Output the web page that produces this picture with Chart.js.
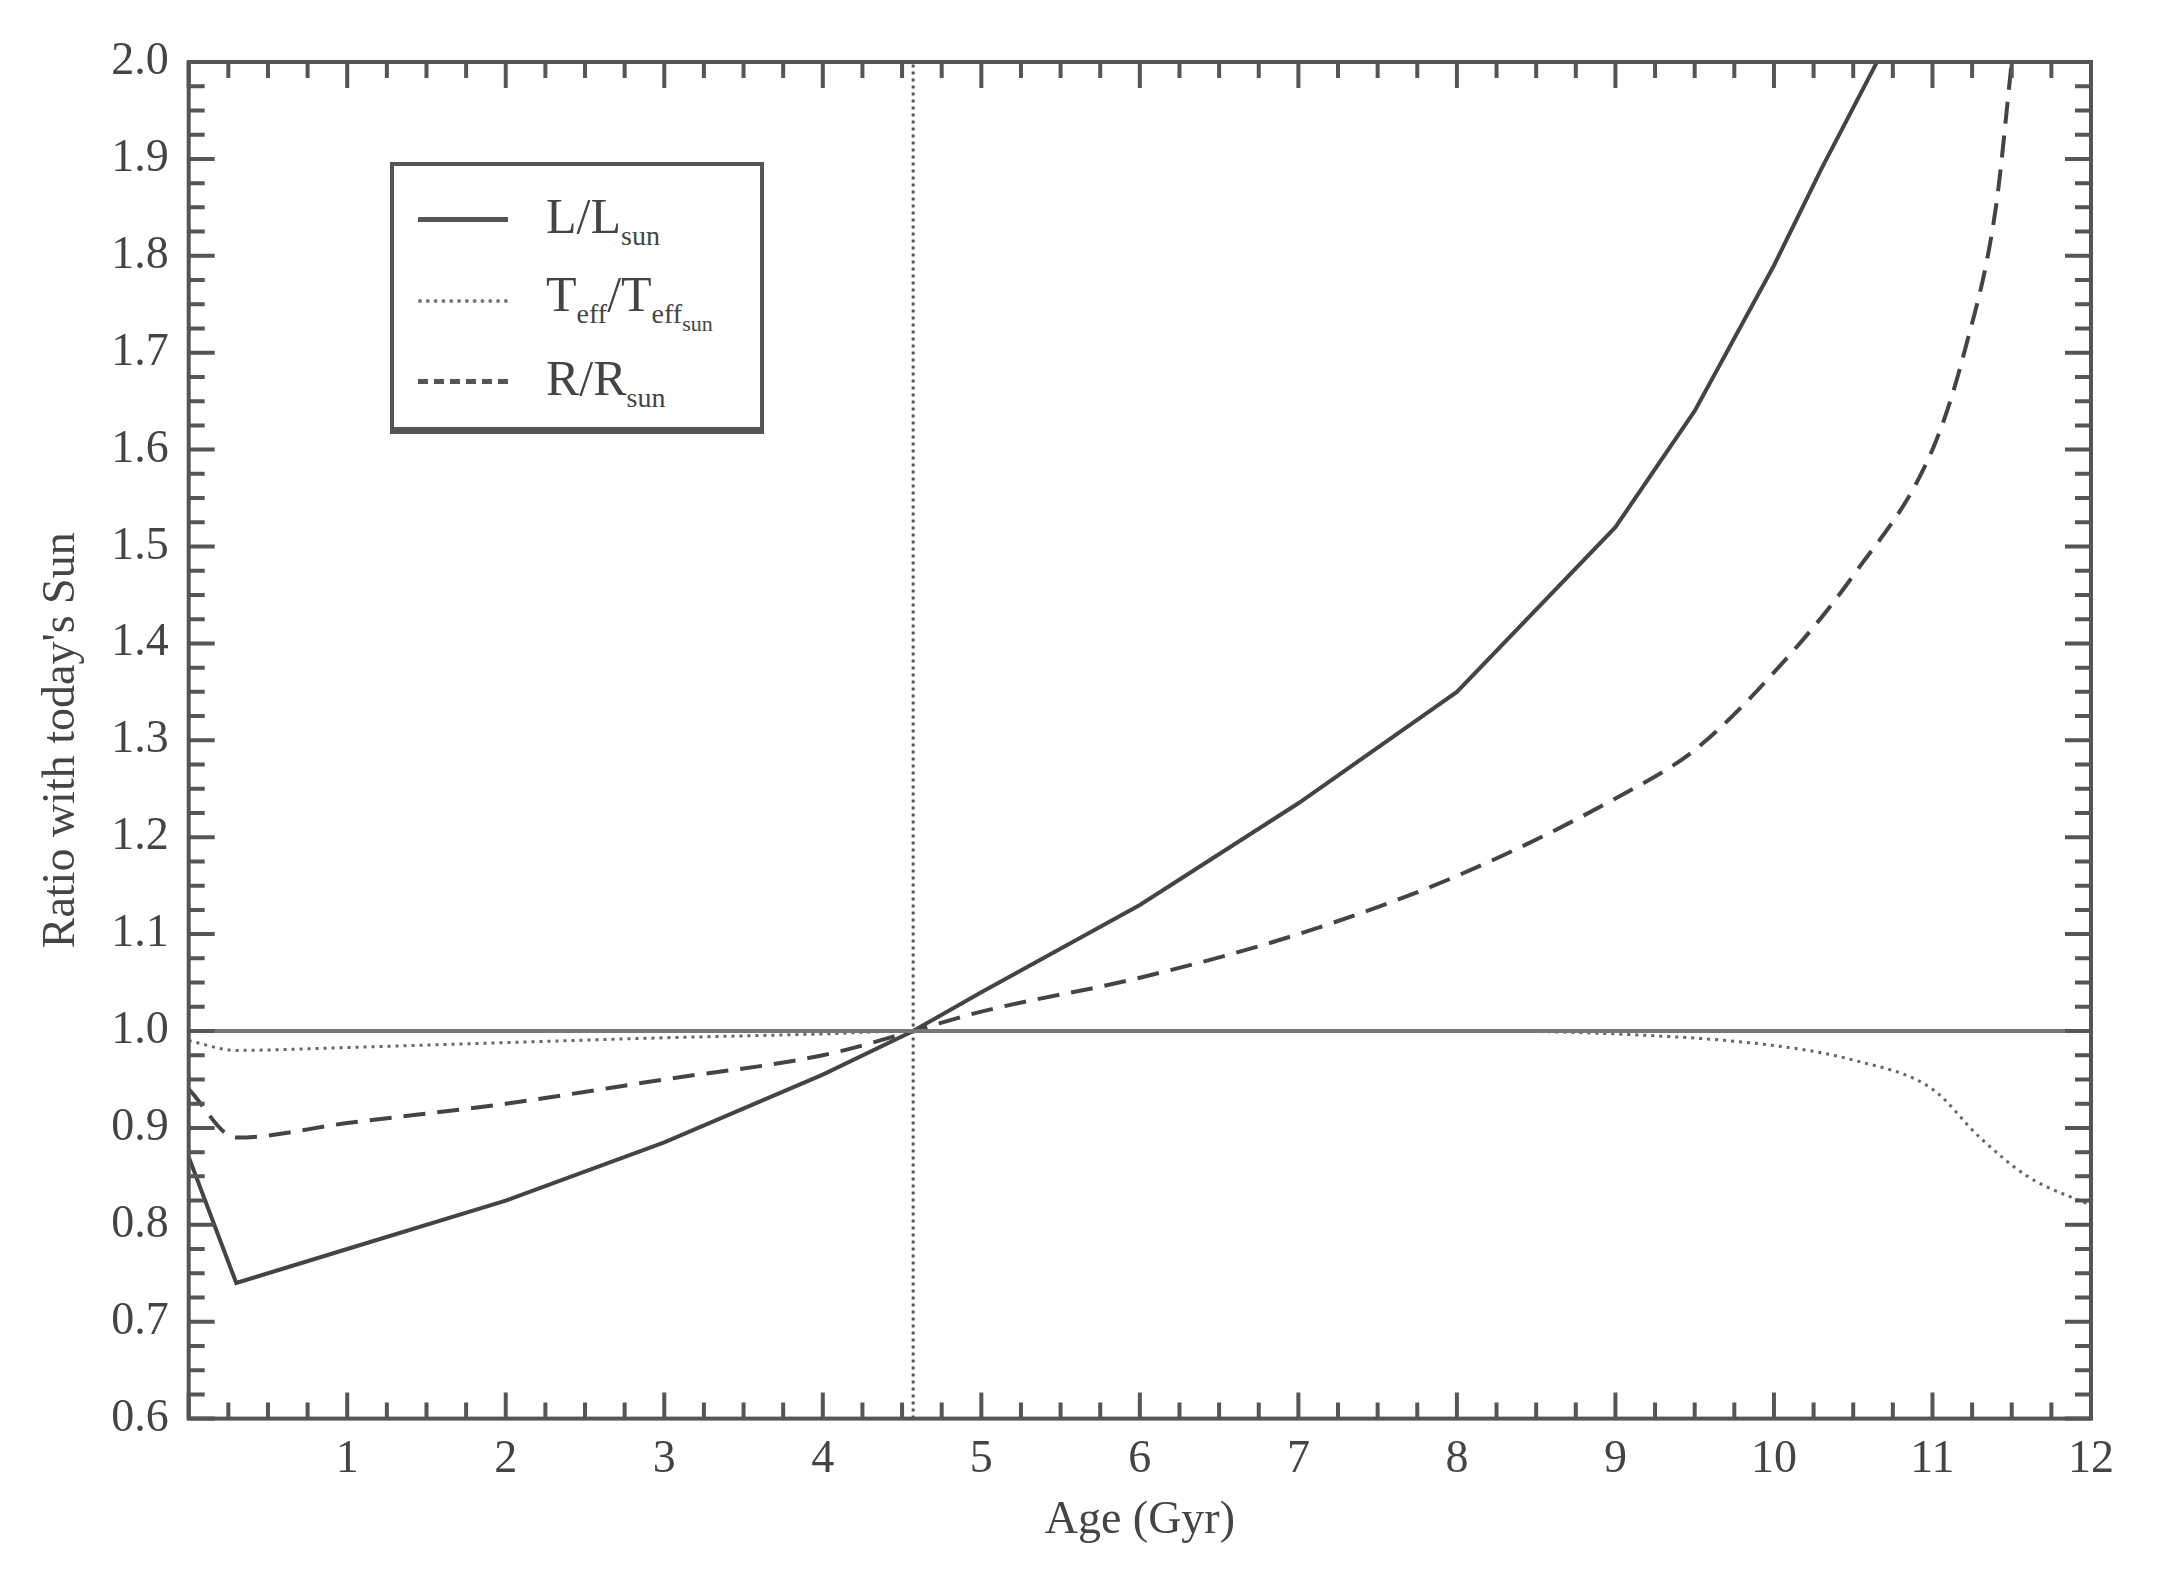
<!DOCTYPE html>
<html><head><meta charset="utf-8">
<script src="https://cdn.jsdelivr.net/npm/chart.js@4"></script>
<style>
body{margin:0;background:#fff;}
#wrap{position:relative;width:2159px;height:1577px;}
#leg{position:absolute;left:390px;top:162px;width:374px;height:272px;border:4px solid #555;border-bottom-width:7px;background:#fff;font-family:"Liberation Serif";font-size:50px;color:#444;box-sizing:border-box;}
.row{position:absolute;left:24px;height:70px;display:flex;align-items:center;}
.sw{width:90px;height:0;margin-right:38px;border-top:5px #555;}
sub{font-size:28px;vertical-align:-12px;}
</style></head><body>
<div id="wrap"><canvas id="c" width="2159" height="1577"></canvas>
<div id="leg">
<div class="row" style="top:18px"><div class="sw" style="border-top-style:solid"></div><span>L/L<sub>sun</sub></span></div>
<div class="row" style="top:100px"><div class="sw" style="border-top:4px dotted #777"></div><span>T<sub>eff</sub>/T<sub>eff<sub style="font-size:22px;vertical-align:-8px">sun</sub></sub></span></div>
<div class="row" style="top:180px"><div class="sw" style="border-top:5px dashed #555"></div><span>R/R<sub>sun</sub></span></div>
</div></div>
<script>
const lumAge=[0,0.3,1,2,3,4,4.57,5,6,7,8,9,9.5,10,10.3,10.65];
const lumVal=[0.87,0.74,0.775,0.825,0.885,0.955,1.0,1.04,1.13,1.235,1.35,1.52,1.64,1.79,1.89,2.0];
const radAge=[0,0.3,1,2,3,4,4.57,5,6,7,8,9,9.5,10,10.5,11,11.2,11.4,11.5];
const radVal=[0.94,0.89,0.905,0.925,0.95,0.975,1.0,1.02,1.055,1.1,1.16,1.24,1.29,1.37,1.47,1.6,1.7,1.85,2.0];
const tefAge=[0,0.3,1,2,3,4,4.57,6,8,9,10,10.5,11,11.3,11.6,12];
const tefVal=[0.99,0.98,0.983,0.988,0.993,0.997,1.0,1.0,1.0,0.997,0.985,0.97,0.94,0.89,0.85,0.82];
const sunAge=4.57;
const pts=(a,v)=>a.map((x,i)=>({x:x,y:v[i]}));
const ticksPlugin={id:'ticks',afterDraw(ch){
 const c=ch.ctx,a=ch.chartArea,xs=ch.scales.x,ys=ch.scales.y;
 c.save();c.strokeStyle='#555';c.lineWidth=4;
 c.strokeRect(a.left,a.top,a.right-a.left,a.bottom-a.top);
 for(let i=0;i<=48;i++){const v=i*0.25,p=xs.getPixelForValue(v),L=(i%4==0)?26:16;
  c.beginPath();c.moveTo(p,a.bottom);c.lineTo(p,a.bottom-L);c.moveTo(p,a.top);c.lineTo(p,a.top+L);c.stroke();}
 for(let i=0;i<=56;i++){const v=0.6+i*0.025,p=ys.getPixelForValue(v),L=(i%4==0)?26:16;
  c.beginPath();c.moveTo(a.left,p);c.lineTo(a.left+L,p);c.moveTo(a.right,p);c.lineTo(a.right-L,p);c.stroke();}
 c.restore();}};
const F="Liberation Serif";
new Chart(document.getElementById('c'),{type:'scatter',
 data:{datasets:[
  {data:[{x:0,y:1},{x:12,y:1}],showLine:true,borderColor:'#777',borderWidth:4,pointRadius:0},
  {data:[{x:sunAge,y:0.6},{x:sunAge,y:2.0}],showLine:true,borderColor:'#555',borderWidth:3,borderDash:[3,4],pointRadius:0},
  {data:pts(lumAge,lumVal),showLine:true,borderColor:'#444',borderWidth:4,pointRadius:0,tension:0},
  {data:pts(tefAge,tefVal),showLine:true,borderColor:'#666',borderWidth:3,borderDash:[3,5],pointRadius:0,cubicInterpolationMode:'monotone'},
  {data:pts(radAge,radVal),showLine:true,borderColor:'#444',borderWidth:4,borderDash:[22,12],pointRadius:0,cubicInterpolationMode:'monotone'}
 ]},
 options:{responsive:false,animation:false,clip:true,
  layout:{padding:{left:24,right:68,top:62,bottom:28}},
  plugins:{legend:{display:false},tooltip:{enabled:false}},
  scales:{
   x:{type:'linear',min:0,max:12,grid:{display:false},border:{display:false},
    ticks:{stepSize:1,color:'#444',font:{family:F,size:46},padding:6,callback:v=>v==0?'':v,maxRotation:0},
    title:{display:true,text:'Age (Gyr)',color:'#444',font:{family:F,size:46},padding:0}},
   y:{min:0.6,max:2.0,grid:{display:false},border:{display:false},
    ticks:{stepSize:0.1,color:'#444',font:{family:F,size:46},padding:12,callback:v=>v.toFixed(1)},
    title:{display:true,text:"Ratio with today's Sun",color:'#444',font:{family:F,size:46},padding:10}}
  }},
 plugins:[ticksPlugin]});
</script></body></html>
